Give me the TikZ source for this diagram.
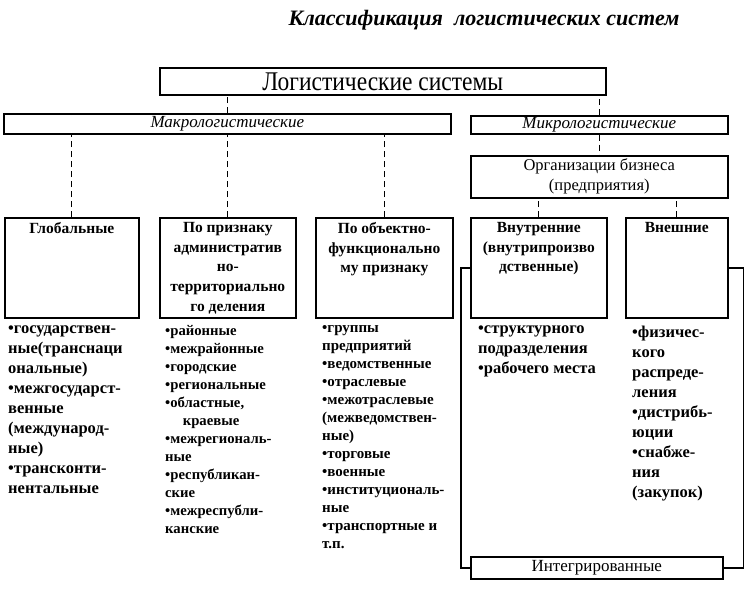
\documentclass[tikz,border=0pt]{standalone}
\usepackage{fontspec}
\setmainfont{Liberation Serif}
\newfontfamily\narrowserif{Liberation Serif}[FakeStretch=0.87]
\usepackage{tikz}
\usetikzlibrary{positioning}

\begin{document}
\begin{tikzpicture}[
    x=1pt, y=-1pt,
    frame/.style={draw, line width=1.6pt, inner sep=0pt, anchor=north west},
    headbox/.style={frame, minimum height=100pt},
    headtxt/.style={anchor=north, yshift=-2pt, align=center, font=\bfseries\fontsize{15.5}{19.6}\selectfont},
    listtxt/.style={anchor=north west, align=left, inner sep=0pt, font=\bfseries\fontsize{16.5}{20}\selectfont},
    dashline/.style={line width=1.2pt, dash pattern=on 6pt off 4pt},
    link/.style={line width=1.6pt}
]
\useasboundingbox (0,0) rectangle (751,589);

% Title
\node[font=\bfseries\itshape\fontsize{22}{26}\selectfont] (title) at (484,20) {Классификация\ \ логистических систем};

% Upper levels
\node[frame, minimum width=446pt, minimum height=27pt, font=\narrowserif\fontsize{27}{30}\selectfont] (logsys) at (159,67) {Логистические системы};
\node[frame, minimum width=447pt, minimum height=20pt, font=\itshape\fontsize{17}{20}\selectfont] (macro) at (3,113) {Макрологистические};
\node[frame, minimum width=257pt, minimum height=18pt, font=\itshape\fontsize{17}{20}\selectfont] (micro) at (470,115) {Микрологистические};
\node[frame, minimum width=257pt, minimum height=42pt, align=center, font=\fontsize{16.5}{20}\selectfont] (business) at (470,155) {Организации бизнеса\\(предприятия)};

% Macro systems
\node[headbox, minimum width=134pt, label={[headtxt]north:Глобальные}] (global) at (4,217) {};
\node[headbox, minimum width=136pt, label={[headtxt]north:По признаку\\административ\\но-\\территориально\\го деления}] (admin) at (159,217) {};
\node[headbox, minimum width=137pt, label={[headtxt]north:По объектно-\\функционально\\му признаку}] (objfunc) at (315,217) {};

% Micro systems
\node[headbox, minimum width=136pt, label={[headtxt]north:Внутренние\\(внутрипроизво\\дственные)}] (inner) at (470,217) {};
\node[headbox, minimum width=102pt, label={[headtxt]north:Внешние}] (outer) at (625,217) {};
\node[frame, minimum width=252pt, minimum height=22pt, font=\fontsize{17}{20}\selectfont] (integr) at (470,556) {Интегрированные};

% Lists
\node[listtxt, below right=7pt and 4pt of global.south west] (globlist) {•государствен-\\ные(транснаци\\ональные)\\•межгосударст-\\венные\\(международ-\\ные)\\•трансконти-\\нентальные};
\node[listtxt, below right=7pt and 6pt of admin.south west, font=\bfseries\fontsize{14.7}{18}\selectfont] (adminlist) {•районные\\•межрайонные\\•городские\\•региональные\\•областные,\\\hspace*{1.2em}краевые\\•межрегиональ-\\ные\\•республикан-\\ские\\•межреспубли-\\канские};
\node[listtxt, below right=7pt and 7pt of objfunc.south west, font=\bfseries\fontsize{15}{18}\selectfont] (objlist) {•группы\\предприятий\\•ведомственные\\•отраслевые\\•межотраслевые\\(межведомствен-\\ные)\\•торговые\\•военные\\•институциональ-\\ные\\•транспортные и\\т.п.};
\node[listtxt, below right=7pt and 8pt of inner.south west] (innerlist) {•структурного\\подразделения\\•рабочего места};
\node[listtxt, below right=7pt and 7pt of outer.south west] (outerlist) {•физичес-\\кого\\распреде-\\ления\\•дистрибь-\\юции\\•снабже-\\ния\\(закупок)};

% Dashed links
\draw[dashline] (macro.north) -- (macro.north |- logsys.south);
\draw[dashline] (micro.north) -- (micro.north |- logsys.south);
\draw[dashline] (micro.south) -- (business.north);
\draw[dashline] (global.north) -- (global.north |- macro.south);
\draw[dashline] (admin.north) -- (admin.north |- macro.south);
\draw[dashline] (objfunc.north) -- (objfunc.north |- macro.south);
\draw[dashline] (inner.north) -- (inner.north |- business.south);
\draw[dashline] (outer.north) -- (outer.north |- business.south);

% Integrated links
\draw[link] (inner.west) -- ++(-9,0) |- (integr.west);
\draw[link] (outer.east) -- ++(15,0) |- (integr.east);

\end{tikzpicture}
\end{document}
